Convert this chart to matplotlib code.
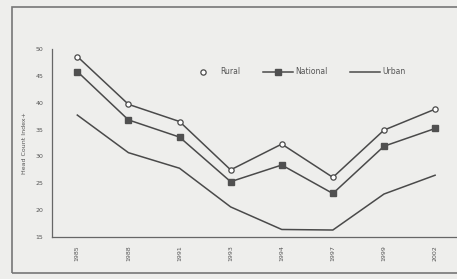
import matplotlib
matplotlib.use('Agg')
import matplotlib.pyplot as plt
from matplotlib.lines import Line2D
from matplotlib.patches import Rectangle

years    = ["1985", "1988", "1991", "1993", "1994", "1997", "1999", "2002"]
rural    = [48.6, 39.7, 36.5, 27.5, 32.3, 26.1, 34.9, 38.8]
national = [45.8, 36.8, 33.6, 25.3, 28.4, 23.1, 31.9, 35.2]
urban    = [37.7, 30.7, 27.8, 20.6, 16.4, 16.3, 23.0, 26.5]

bg = '#eeeeec'
ink = '#4a4a4a'

fig = plt.figure(figsize=(4.57, 2.79), dpi=100)
fig.patch.set_facecolor(bg)

# outer frame of the scanned chart
fig.patches.append(Rectangle((12/457, 1-273/279), 1.2, (273-7)/279,
                             transform=fig.transFigure, fill=False,
                             edgecolor='#777777', linewidth=1.2))

ax = fig.add_axes([51.75/457, 1-237/279, 408.9/457, 188/279])
ax.set_facecolor(bg)
x = range(len(years))

ax.plot(x, rural, color=ink, lw=1.1, marker='o', ms=3.8,
        mfc='white', mec=ink, mew=0.9)
ax.plot(x, national, color=ink, lw=1.1, marker='s', ms=4.2,
        mfc='#505050', mec='#505050')
ax.plot(x, urban, color=ink, lw=1.1)

ax.set_xlim(-0.5, 7.5)
ax.set_ylim(15, 50)
ax.set_yticks(range(15, 51, 5))
ax.set_xticks(list(x))
ax.set_xticklabels(years, rotation=90)
ax.tick_params(axis='both', length=0, labelsize=4.5, colors='#555555', pad=6)
ax.set_ylabel("Head Count Index+", fontsize=4.5, color='#555555', labelpad=6)

for s in ['top', 'right']:
    ax.spines[s].set_visible(False)
for s in ['left', 'bottom']:
    ax.spines[s].set_color('#666666')
    ax.spines[s].set_linewidth(0.9)

handles = [
    Line2D([], [], color=ink, lw=0, marker='o', ms=3.8, mfc='white', mec=ink, mew=0.9),
    Line2D([], [], color=ink, lw=1.1, marker='s', ms=4.2, mfc='#505050', mec='#505050'),
    Line2D([], [], color=ink, lw=1.1),
]
ax.legend(handles, ["Rural", "National", "Urban"], ncol=3, frameon=False,
          fontsize=5.5, loc='center left', bbox_to_anchor=(0.333, 0.878),
          borderpad=0, borderaxespad=0,
          handlelength=3.9, columnspacing=3.0, handletextpad=0.3,
          labelcolor='#555555')

plt.savefig("out.png", dpi=100, facecolor=bg)
